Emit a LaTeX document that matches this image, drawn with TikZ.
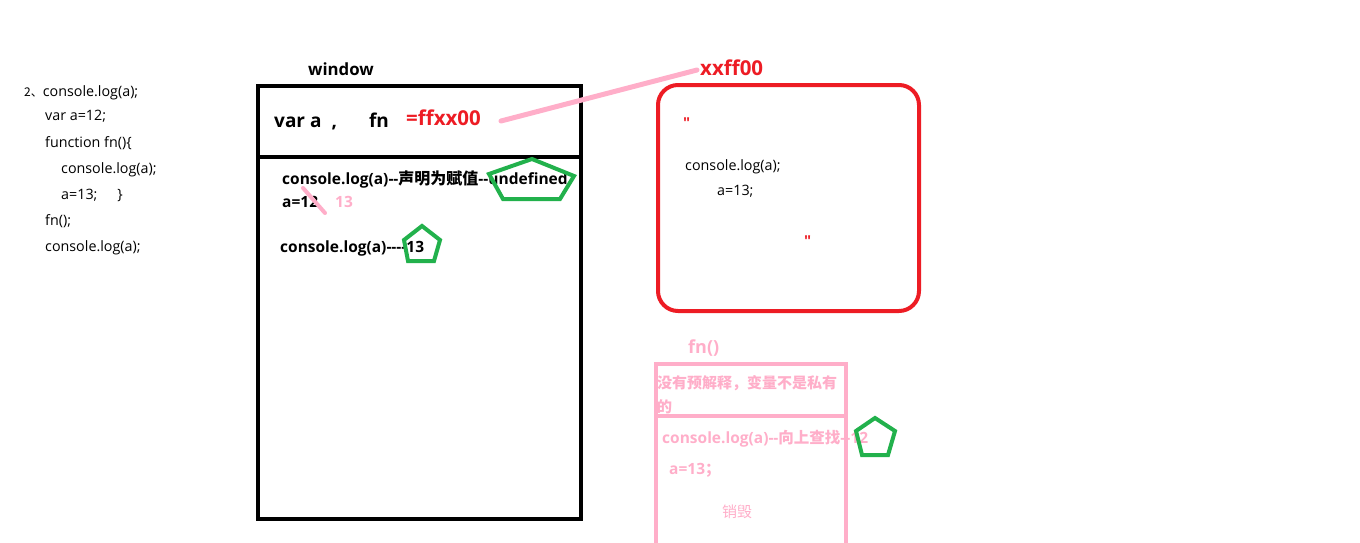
\documentclass[tikz,border=0pt]{standalone}
\usepackage{fontspec}
\setmainfont{Open Sans}[Ligatures=TeXOff]
\newfontfamily\cjk{Noto Sans CJK SC}[Ligatures=TeXOff]
\definecolor{jred}{HTML}{ED1C24}
\definecolor{jpink}{HTML}{FFAEC9}
\definecolor{jgreen}{HTML}{22B14C}
\tikzset{
  txt/.style={anchor=base west,inner sep=0pt,font=\fontsize{14.3}{16}\selectfont},
  btxt/.style={anchor=base west,inner sep=0pt,font=\fontsize{15.5}{17}\selectfont\bfseries},
  pent/.style={draw=jgreen,line width=4pt,line join=miter},
  pinkline/.style={draw=jpink,line width=5pt,line cap=round},
}
\begin{document}
\begin{tikzpicture}[x=1pt,y=-1pt]
\useasboundingbox (0,0) rectangle (1360,543);
% left code
\node[txt] (c1) at (24,96) {{\cjk\fontsize{12}{14}\selectfont 2、}console.log(a);};
\node[txt] (c2) at (45,121) {var a=12;};
\node[txt] (c3) at (45,147) {function fn()\{};
\node[txt] (c4) at (61,173) {console.log(a);};
\node[txt] (c5) at (61,199) {a=13;\hspace{20pt}\}};
\node[txt] (c6) at (45,225) {fn();};
\node[txt] (c7) at (45,251) {console.log(a);};
% window
\node[btxt,font=\fontsize{16.8}{18}\selectfont\bfseries] (wl) at (308,75) {window};
\draw[line width=4pt] (258,86) rectangle (581,519);
\draw[line width=4pt] (258,157) -- (581,157);
\node[btxt,font=\fontsize{19}{21}\selectfont\bfseries] (va) at (274,127) {var a\hspace{10pt},\hspace{32pt}fn};
\node[btxt,font=\fontsize{20.5}{22}\selectfont\bfseries,text=jred] (ff) at (406,125) {=ffxx00};
\coordinate (ls) at (501,121);
\coordinate (le) at (697,70);
\draw[pinkline] (ls) -- (le);
\node[btxt,font=\fontsize{20.5}{22}\selectfont\bfseries,text=jred] (xx) at (700,76) {xxff00};
\node[btxt] (l1) at (282,184) {console.log(a)--{\cjk\fontsize{16}{18}\selectfont 声明为赋值}--undefined};
\node[btxt] (l2) at (282,207) {a=12};
\coordinate (s1) at (303,188);
\coordinate (s2) at (325,213);
\draw[draw=jpink,line width=4pt,line cap=round] (s1) -- (s2);
\node[btxt,text=jpink] (l3) at (335,207) {13};
\node[btxt] (l4) at (280,252) {console.log(a)-{}-{}-{}-13};
% red heap box
\draw[jred,line width=4pt,rounded corners=20pt] (658,85) rectangle (919,311);
\node[txt,text=jred,font=\fontsize{15}{16}\selectfont\bfseries] (q1) at (683,128) {"};
\node[txt] (h1) at (685,170) {console.log(a);};
\node[txt] (h2) at (717,195) {a=13;};
\node[txt,text=jred,font=\fontsize{15}{16}\selectfont\bfseries] (q2) at (804,246) {"};
% fn() stack
\node[btxt,font=\fontsize{18}{20}\selectfont\bfseries,text=jpink] (fl) at (688,353) {fn()};
\node[btxt,text=jpink,font=\fontsize{15}{17}\selectfont\cjk\bfseries] (p1) at (657,388) {没有预解释，变量不是私有};
\node[btxt,text=jpink,font=\fontsize{15}{17}\selectfont\cjk\bfseries] (p2) at (657,412) {的};
\node[btxt,text=jpink] (p3) at (662,443) {console.log(a)--{\cjk 向上查找}--12};
\node[btxt,text=jpink] (p4) at (669,474) {a=13{\cjk ；}};
\node[txt,text=jpink,font=\fontsize{15}{17}\selectfont\cjk] (p5) at (722,517) {销毁};
\draw[jpink,line width=4pt] (656,548) -- (656,364) -- (846,364) -- (846,548);
\draw[jpink,line width=4pt] (656,416) -- (846,416);
% pentagons
\draw[pent] (532,159) -- (574,176) -- (560,199) -- (503,199) -- (489,174) -- cycle;
\draw[pent] (422,226) -- (440,240) -- (434,261) -- (408,261) -- (404,240) -- cycle;
\draw[pent] (875,418) -- (895,431) -- (888,455) -- (862,455) -- (856,431) -- cycle;
\end{tikzpicture}
\end{document}
